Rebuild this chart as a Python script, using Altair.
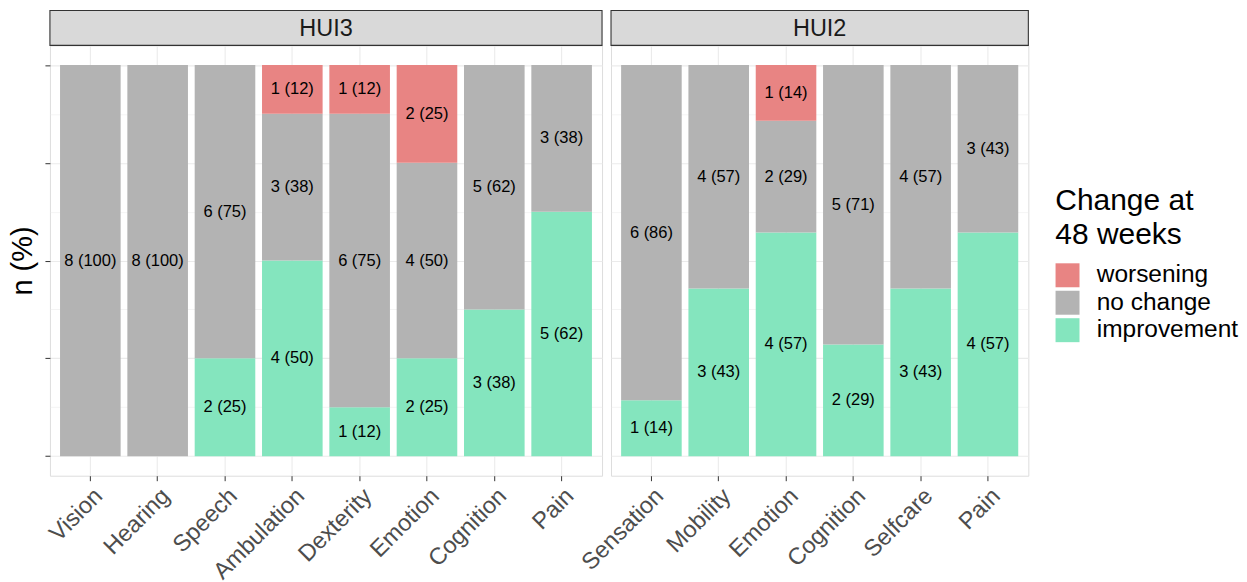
import altair as alt
import pandas as pd

panels = ["HUI3", "HUI2"]
statuses = ["worsening", "no change", "improvement"]
status_colors = ["#E88483", "#B3B3B3", "#84E5BE"]

hui3_items = ["Vision", "Hearing", "Speech", "Ambulation", "Dexterity", "Emotion", "Cognition", "Pain"]
hui3_worsening = [0, 0, 0, 1, 1, 2, 0, 0]
hui3_nochange = [8, 8, 6, 3, 6, 4, 5, 3]
hui3_improvement = [0, 0, 2, 4, 1, 2, 3, 5]

hui2_items = ["Sensation", "Mobility", "Emotion", "Cognition", "Selfcare", "Pain"]
hui2_worsening = [0, 0, 1, 0, 0, 0]
hui2_nochange = [6, 4, 2, 5, 4, 3]
hui2_improvement = [1, 3, 4, 2, 3, 4]

y_tick_values = [0, 0.125, 0.25, 0.375, 0.5, 0.625, 0.75, 0.875, 1.0]


def build_df(items, worse, same, better):
    rows = []
    for i, item in enumerate(items):
        total = worse[i] + same[i] + better[i]
        cum = 0.0
        for order, (st, n) in enumerate([("improvement", better[i]), ("no change", same[i]), ("worsening", worse[i])]):
            if n <= 0:
                continue
            frac = n / total
            rows.append({
                "item": item, "status": st, "order": order, "n": n,
                "y0": cum, "y1": cum + frac, "mid": cum + frac / 2,
                "label": f"{n} ({round(100 * n / total)})",
            })
            cum += frac
    return pd.DataFrame(rows)


FONT = "Liberation Sans"
STRIP_H = 35
MAIN_H = 431
is_major = "datum.value * 4 % 1 == 0"


def panel(name, items, df, width, show_y):
    strip_df = pd.DataFrame({"panel": [name]})
    strip_box = alt.Chart(strip_df).mark_rect(fill="#D9D9D9", stroke="#333333", strokeWidth=1.1).encode(
        x=alt.value(0), x2=alt.value(width), y=alt.value(-STRIP_H), y2=alt.value(0)
    )
    strip_text = alt.Chart(strip_df).mark_text(fontSize=23.5, color="#1A1A1A", font=FONT).encode(
        x=alt.value(width / 2), y=alt.value(-STRIP_H / 2 + 1), text="panel:N"
    )

    if show_y:
        yaxis = alt.Axis(
            values=y_tick_values, labels=False, title="n (%)", titleFontSize=29,
            titleFontWeight="normal", titleColor="black", titleFont=FONT,
            titlePadding=7, domain=False, tickColor="#333333", tickSize=5,
            tickOpacity={"condition": {"test": is_major, "value": 1}, "value": 0},
            grid=True, gridColor="#EBEBEB",
            gridWidth={"condition": {"test": is_major, "value": 1.1}, "value": 0.55},
        )
    else:
        yaxis = alt.Axis(
            values=y_tick_values, labels=False, title="", domain=False, ticks=False,
            minExtent=0, maxExtent=0, grid=True, gridColor="#EBEBEB",
            gridWidth={"condition": {"test": is_major, "value": 1.1}, "value": 0.55},
        )

    x = alt.X(
        "item:N", sort=items, title="",
        scale=alt.Scale(paddingInner=0.1, paddingOuter=0.15),
        axis=alt.Axis(
            labelAngle=315, labelAlign="right", labelBaseline="top", labelFontSize=23.5,
            labelColor="#4D4D4D", labelFont=FONT, labelPadding=3,
            tickColor="#333333", tickSize=5, domain=False, grid=True,
            gridColor="#EBEBEB", gridWidth=1.1, bandPosition=0.5,
        ),
    )
    yscale = alt.Scale(domain=[-0.05, 1.05], nice=False, zero=False)

    base = alt.Chart(df)
    bars = base.mark_bar().encode(
        x=x,
        y=alt.Y("y0:Q", scale=yscale, axis=yaxis),
        y2="y1:Q",
        color=alt.Color(
            "status:N",
            scale=alt.Scale(domain=statuses, range=status_colors),
            legend=alt.Legend(
                title=["Change at", "48 weeks"], orient="none", legendX=1007, legendY=141,
                titleFontSize=30, titleFontWeight="normal", titleColor="black",
                titleFont=FONT, titleLineHeight=34, titlePadding=13,
                labelFontSize=24.5, labelColor="black", labelFont=FONT,
                symbolType="square", symbolSize=576, symbolStrokeWidth=0,
                symbolOpacity=1, rowPadding=1.5, labelOffset=17,
            ),
        ),
        order=alt.Order("order:Q"),
    )
    text = base.mark_text(fontSize=16.5, color="black", font=FONT).encode(
        x=alt.X("item:N", sort=items),
        y=alt.Y("mid:Q", scale=yscale),
        text="label:N",
    )
    return alt.layer(bars, text, strip_box, strip_text).properties(width=width, height=MAIN_H)


df3 = build_df(hui3_items, hui3_worsening, hui3_nochange, hui3_improvement)
df2 = build_df(hui2_items, hui2_worsening, hui2_nochange, hui2_improvement)

chart = alt.hconcat(
    panel(panels[0], hui3_items, df3, 553, True),
    panel(panels[1], hui2_items, df2, 418, False),
    spacing=9, bounds="flush",
).resolve_scale(color="shared", x="independent").properties(
    padding={"left": 0, "top": 0, "right": 0, "bottom": 0},
).configure_view(stroke="#333333", strokeWidth=1.1).configure(background="white")

chart.save("out.html", embed_options={"renderer": "svg", "actions": False})
